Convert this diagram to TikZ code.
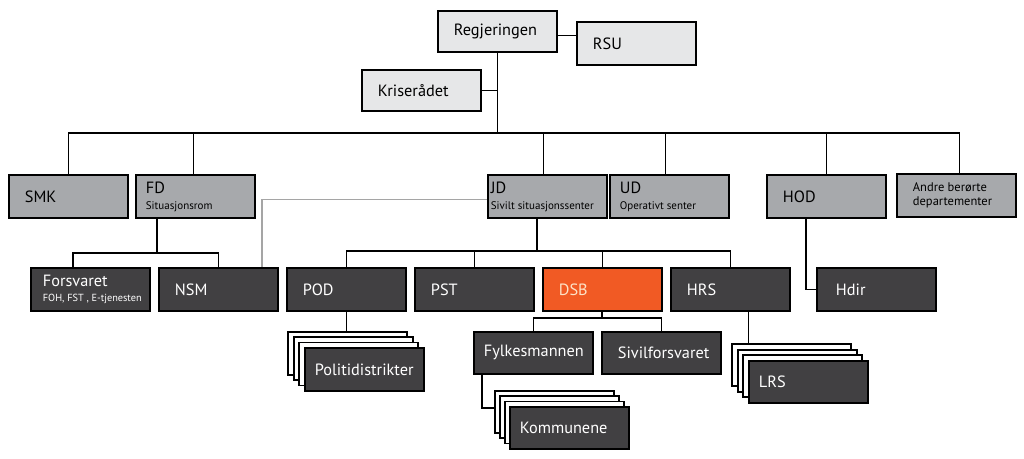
\documentclass[tikz,border=0pt]{standalone}
\usepackage{fontspec}
\setmainfont{PT Sans}
\usetikzlibrary{positioning,calc}
\definecolor{lysgraa}{HTML}{E6E7E8}
\definecolor{mellomgraa}{HTML}{A7A9AC}
\definecolor{morkgraa}{HTML}{414042}
\definecolor{oransje}{HTML}{F15A24}
\definecolor{fersken}{HTML}{FDE3C8}
\definecolor{strek}{HTML}{A5A5A5}
\newcommand{\liten}{\fontsize{11}{12}\selectfont}
\hyphenpenalty=10000
\exhyphenpenalty=10000

\begin{document}
\begin{tikzpicture}[x=1pt, y=-1pt, font=\fontsize{16.3}{18}\selectfont,
    boks/.style={draw=black, line width=1.8pt, minimum height=43pt, text width=87pt,
                 inner xsep=16pt, inner ysep=2pt, align=flush left, anchor=north west},
    smal/.style={inner xsep=10pt, text width=99pt},
    topp/.style={boks, fill=lysgraa},
    dep/.style={boks, fill=mellomgraa},
    etat/.style={boks, fill=morkgraa, text=white},
    kort/.style={boks, fill=white},
    linje/.style={line width=1.8pt}]
    \useasboundingbox (0,0) rectangle (1024,458);
    \node[topp, minimum height=41pt] (reg) at (437,10) {Regjeringen};
    \node[topp] (rsu) at (576,21) {RSU};
    \node[topp, minimum height=41pt] (kris) at (361,69) {Kriserådet};
    \node[dep] (smk) at (8,174) {SMK};
    \node[dep, smal] (fd) at (135,174) {FD\\[-2pt]{\liten Situasjonsrom}};
    \node[dep, inner xsep=3pt, text width=113pt] (jd) at (487,174) {JD\\[-2pt]{\liten Sivilt situasjonssenter}};
    \node[dep, smal] (ud) at (609,174) {UD\\[-2pt]{\liten Operativt senter}};
    \node[dep] (hod) at (766,174) {HOD};
    \node[dep, font=\fontsize{12.5}{14}\selectfont] (andre) at (896,173) {Andre berørte\\departementer};
    \node[etat, inner xsep=12pt, text width=95pt] (forsv) at (30,267) {Forsvaret\\[-3pt]\mbox{\fontsize{10.3}{11}\selectfont FOH, FST , E-tjenesten}};
    \node[etat] (nsm) at (158,267) {NSM};
    \node[etat] (pod) at (286,267) {POD};
    \node[etat] (pst) at (414,267) {PST};
    \node[etat, fill=oransje, text=fersken] (dsb) at (542,267) {DSB};
    \node[etat] (hrs) at (670,267) {HRS};
    \node[etat, inner xsep=19pt, text width=81pt] (hdir) at (816,267) {Hdir};
    \node[etat, smal, minimum height=42pt] (fylk) at (473,331) {Fylkesmannen};
    \node[etat, minimum height=42pt] (sivil) at (601,331) {Sivilforsvaret};
    \foreach \i in {0,1,2}
      \node[kort] (pol\i) at ({287+\i*5.7},{331+\i*5.3}) {};
    \node[etat, smal] (pol) at (304,347) {Politidistrikter};
    \foreach \i in {0,1,2}
      \node[kort, minimum height=42pt] (kom\i) at ({494+\i*5},{390+\i*5.3}) {};
    \node[etat, smal, minimum height=42pt] (kom) at (509,406) {Kommunene};
    \foreach \i in {0,1,2}
      \node[kort, minimum height=42pt] (lrs\i) at ({731+\i*5.7},{343+\i*5.7}) {};
    \node[etat, smal, minimum height=42pt] (lrs) at (748,360) {LRS};
    \coordinate (hub) at (497,133);
    \coordinate (fdj) at (157,253);
    \coordinate (jdj) at (537,251);
    \coordinate (dsbj) at (602,318);
    \coordinate (rs) at ([yshift=-4pt]reg.east);
    \coordinate (hrsj) at ([xshift=18pt]hrs.south);
    \draw[linje] (rs) -- (rs -| rsu.west);
    \draw[linje] (reg.south) -- (reg.south |- hub);
    \draw[linje] (kris.east) -- (kris.east -| reg.south);
    \foreach \n/\d in {smk/0,fd/-2,jd/-4,ud/-4,hod/0,andre/3}
      \draw[linje] ([xshift=\d pt]\n.north) |- (hub);
    \draw[linje, strek] ([yshift=-3pt]jd.west) -| ([xshift=-17pt]nsm.north east);
    \draw[linje] (fdj) -- (fdj |- fd.south);
    \draw[linje] ([xshift=43pt]forsv.north west) |- (fdj);
    \draw[linje] (nsm.north) |- (fdj);
    \draw[linje] (jdj) -- (jdj |- jd.south);
    \foreach \n in {pod,pst,dsb,hrs}
      \draw[linje] (\n.north) |- (jdj);
    \draw[linje] ([xshift=-20.5pt]hod.south) |- (hdir.west);
    \draw[linje] (pod.south) -- (pod.south |- pol0.north);
    \draw[linje] (dsbj) -- (dsbj |- dsb.south);
    \draw[linje] (fylk.north) |- (dsbj);
    \draw[linje] (sivil.north) |- (dsbj);
    \draw[linje] ([xshift=9pt]fylk.south west) |- ([yshift=4pt]kom0.west);
    \draw[linje] (hrsj) -- (hrsj |- lrs0.north);
\end{tikzpicture}
\end{document}
